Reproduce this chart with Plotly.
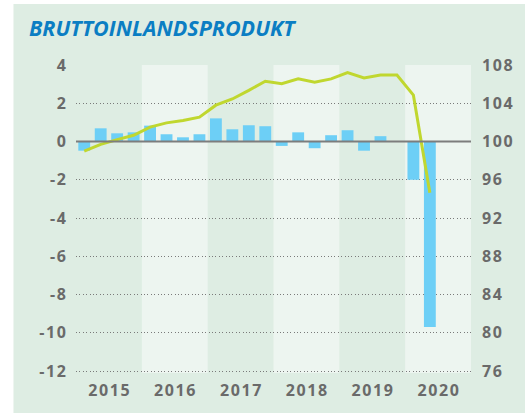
import plotly.graph_objects as go

years = ["2015", "2016", "2017", "2018", "2019", "2020"]
quarters = ["Q1", "Q2", "Q3", "Q4"]
# quarterly GDP growth (%), left axis
growth = [-0.48, 0.69, 0.43, 0.48,
          0.83, 0.38, 0.22, 0.38,
          1.21, 0.64, 0.85, 0.80,
          -0.23, 0.48, -0.35, 0.33,
          0.59, -0.48, 0.28, -0.02,
          -2.0, -9.7]
# GDP index (right axis)
index = [99.0, 99.7, 100.2, 100.65,
         101.5, 101.95, 102.2, 102.55,
         103.8, 104.45, 105.35, 106.3,
         106.05, 106.55, 106.2, 106.55,
         107.2, 106.65, 106.95, 106.95,
         104.85, 94.65]
left_ticks = [4, 2, 0, -2, -4, -6, -8, -10, -12]
right_ticks = [108, 104, 100, 96, 92, 88, 84, 80, 76]

CARD = "#deede3"
BAND = "#edf5f0"
TXT = "#6a6a6a"
HS = "\u200a"

x = list(range(len(growth)))
labels = [f"{years[i // 4]} {quarters[i % 4]}" for i in x]

fig = go.Figure()
fig.add_trace(go.Bar(x=x, y=growth, marker=dict(color="#6dcff6", line=dict(width=0)),
                     hovertext=labels, yaxis="y"))
fig.add_trace(go.Scatter(x=x, y=index, mode="lines", line=dict(color="#c0d72f", width=3),
                         hovertext=labels, yaxis="y2"))

shapes = []
# card background
shapes.append(dict(type="rect", xref="paper", yref="paper", x0=(13 - 76) / 398, x1=(530 - 76) / 398,
                   y0=-0.2, y1=(373 - 4) / 308, fillcolor=CARD, line=dict(width=0), layer="below"))
for k, yr in enumerate(years):
    if k % 2 == 1:
        shapes.append(dict(type="rect", xref="x", yref="y", x0=4 * k - 0.5, x1=4 * k + 3.5,
                           y0=-12.1, y1=4, fillcolor=BAND, line=dict(width=0), layer="below"))
shapes.append(dict(type="line", xref="x", yref="y", x0=-0.5, x1=4 * len(years) - 0.5, y0=0, y1=0,
                   line=dict(color="#7d7d7d", width=2), layer="above"))

tickfont = dict(family="Open Sans", size=16, color=TXT, weight="bold")

fig.update_layout(
    width=525, height=413,
    margin=dict(l=76, r=51, t=65, b=40),
    paper_bgcolor="white", plot_bgcolor="rgba(0,0,0,0)",
    showlegend=False, bargap=0.28,
    shapes=shapes,
    xaxis=dict(range=[-0.5, 4 * len(years) - 0.5],
               tickvals=[4 * k + 1.5 for k in range(len(years))],
               ticktext=[HS.join(y) for y in years],
               showgrid=False, zeroline=False, showline=False, ticks="",
               tickfont=tickfont, ticklabelstandoff=6),
    yaxis=dict(range=[-12.1, 4], tickvals=left_ticks,
               ticktext=[HS.join(str(v)) for v in left_ticks],
               showgrid=True, gridcolor="#7a7a7a", gridwidth=1, griddash="1px,2.4px",
               zeroline=False, showline=False, ticks="", tickfont=tickfont, ticklabelstandoff=9),
    yaxis2=dict(range=[75.8, 108], tickvals=right_ticks,
                ticktext=[HS.join(str(v)) for v in right_ticks],
                overlaying="y", side="right", showgrid=False, zeroline=False, showline=False,
                ticks="", tickfont=tickfont, ticklabelstandoff=10),
    annotations=[dict(text="BRUTTOINLANDSPRODUKT", xref="paper", yref="paper",
                      x=(27 - 76) / 398, y=(373 - 27) / 308, xanchor="left", yanchor="middle",
                      showarrow=False,
                      font=dict(family="Open Sans", size=21.5, color="#0b7ec3", weight="bold", style="italic"))],
)

fig.write_html("out.html", config={"displayModeBar": False},
               post_script="document.body.style.margin='0';document.body.style.overflow='hidden';")
